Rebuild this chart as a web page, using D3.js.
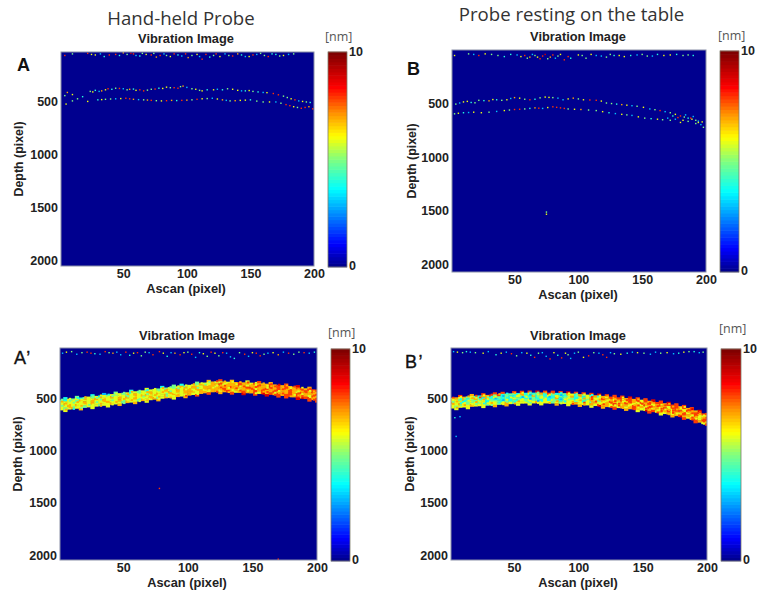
<!DOCTYPE html>
<html><head><meta charset="utf-8">
<script src="https://cdn.jsdelivr.net/npm/d3@7"></script>
<style>html,body{margin:0;background:#fff}svg{display:block}text{font-family:"Liberation Sans",Arial,sans-serif}</style>
</head><body><svg id="c" width="762" height="597"></svg>
<script>
const xTicks=[50,100,150,200], yTicks=[500,1000,1500,2000];
const barStops=[0,0.1,0.36,0.5,0.61,0.72,0.84,1];
const barColors=["#00008f","#0000ff","#00ffff","#80ff80","#ffff00","#ff9000","#ff0000","#800000"];
const barSteps=[0,1,2,3,4,5,6,7,8,9,10,11,12,13,14,15,16,17,18,19,20,21,22,23,24,25,26,27,28,29,30,31,32,33,34,35,36,37,38,39,40,41,42,43,44,45,46,47,48,49,50,51,52,53,54,55,56,57,58,59,60,61,62,63];
const headlines=["Hand-held Probe","Probe resting on the table"];

// [ascan, depth, nm]
const speckleA=[[4,60,8],[10,45,5],[22,40,8],[28,55,6],[35,70,4],[44,50,8],[50,35,7],[56,40,9],[60,60,3],[65,40,5],[72,55,8],[76,75,7],[84,60,5],[90,45,8],[96,65,3],[101,80,7],[108,50,6],[112,95,8],[118,75,4],[123,45,8],[133,60,5],[140,45,7],[146,70,3],[152,55,8],[158,40,5],[164,70,8],[170,50,4],[176,60,6],[184,45,5],
[25,50,6],[32,45,3],[39,55,8],[47,60,4],[53,50,5],[58,45,8],[63,65,4],[68,50,6],[74,40,5],[79,60,8],[82,45,3],[87,70,6],[93,55,4],[99,45,8],[104,60,5],[110,70,3],[115,50,8],[121,60,5],[126,70,6],[130,45,3],[136,65,8],[143,55,4],[149,70,6],[155,50,3],[161,60,5],[167,45,4],[173,65,5],[180,50,3],
[4,440,5],[6,410,7],[10,430,6],[14,470,5],[18,450,4],[24,400,5],[28,390,4],[33,395,7],[38,375,8],[44,370,5],[50,375,3],[55,380,7],[60,390,6],[66,395,8],[72,380,5],[78,370,4],[84,360,6],[90,365,8],[97,350,7],[104,375,5],[112,395,6],[116,385,4],[124,380,3],[132,375,5],[140,390,6],[146,395,4],[152,400,5],[160,410,3],[168,420,8],[176,445,5],[182,470,6],[188,490,3],[194,500,5],
[26,405,6],[31,400,3],[36,385,6],[41,380,4],[47,372,8],[53,385,5],[58,378,4],[63,385,8],[69,388,5],[75,378,8],[81,372,6],[87,365,5],[93,370,8],[95,355,5],[100,362,3],[107,380,6],[110,390,5],[121,385,6],[128,385,4],[136,380,6],[143,395,3],[149,392,6],[156,405,4],[163,412,6],[172,432,8],[179,458,5],[185,480,8],[191,495,6],[197,505,4],
[5,520,6],[10,490,5],[22,495,6],[30,480,4],[36,475,5],[44,470,3],[52,465,8],[58,475,7],[66,480,5],[72,485,8],[80,490,6],[88,485,7],[96,485,8],[104,480,5],[112,470,6],[120,465,3],[128,480,7],[134,490,5],[142,485,6],[150,480,4],[160,500,5],[170,500,3],[178,525,8],[184,545,6],[190,560,8],[196,545,7],[199,565,8],
[33,478,6],[40,472,5],[48,468,6],[55,470,8],[62,478,3],[69,482,7],[76,488,5],[84,488,8],[92,487,4],[100,483,7],[108,475,8],[116,468,5],[124,472,6],[131,485,3],[138,488,7],[146,483,6],[155,492,5],[165,500,6],[174,512,5],[181,535,8],[187,552,5],[193,552,8]];
const speckleB=[[3,60,6],[14,45,5],[22,60,8],[32,50,5],[42,70,4],[52,55,3],[58,60,8],[62,75,7],[66,60,5],[70,90,8],[74,50,9],[78,75,7],[84,65,5],[89,100,8],[92,70,8],[100,55,6],[106,85,5],[114,60,3],[122,75,5],[128,60,4],[136,70,6],[146,55,3],[154,65,5],[162,50,4],[172,55,6],[182,60,5],[190,60,4],
[18,50,3],[27,45,6],[37,60,5],[47,50,4],[55,70,6],[60,85,5],[64,50,3],[68,75,6],[72,65,8],[76,90,5],[80,55,8],[82,85,3],[86,50,6],[94,85,4],[103,60,5],[110,50,6],[118,65,3],[125,50,5],[132,60,6],[141,60,4],[150,50,5],[158,65,3],[167,60,6],[177,50,4],[186,55,5],
[4,510,5],[10,490,6],[16,495,4],[22,475,5],[30,480,7],[36,470,4],[44,470,6],[50,450,7],[58,465,5],[66,465,4],[74,445,6],[80,450,5],[88,470,3],[96,455,7],[104,470,6],[114,475,8],[122,500,5],[130,510,4],[138,520,6],[146,530,5],[156,555,3],[164,570,8],[172,590,5],[180,620,8],[186,640,4],[192,660,5],[197,675,6],
[7,500,3],[13,485,6],[19,498,5],[26,478,4],[33,468,6],[40,475,5],[47,458,3],[54,455,6],[62,470,8],[70,452,5],[77,448,6],[84,455,3],[92,462,6],[100,462,5],[109,472,8],[118,482,6],[126,505,5],[134,515,7],[142,525,3],[151,540,6],[160,562,5],[168,580,3],[176,605,6],[183,630,5],[189,650,6],[194,668,3],
[3,600,5],[10,590,4],[18,585,6],[30,585,5],[42,570,6],[50,560,8],[58,555,5],[66,545,7],[72,550,3],[80,535,8],[86,545,8],[92,555,5],[102,560,7],[114,570,5],[124,590,4],[134,605,6],[142,615,3],[152,640,5],[162,650,6],[170,640,3],[172,660,5],[174,620,4],[178,635,8],[182,660,6],[184,610,3],[188,640,8],[192,690,5],[196,700,3],[198,725,5],
[6,595,6],[14,588,3],[24,590,6],[36,578,3],[46,565,5],[54,558,8],[62,550,4],[69,548,8],[76,542,6],[83,540,8],[89,550,8],[97,558,6],[108,565,5],[119,580,6],[129,598,3],[138,610,5],[147,628,6],[157,645,4],[166,655,5],[176,650,3],[180,680,6],[186,670,5],[190,625,3],[194,680,6],[75,1510,5],[75,1530,6]];
const speckleA2=[[3,60,3],[10,45,5],[14,70,3],[22,50,8],[28,65,4],[36,45,8],[42,60,7],[48,75,3],[52,50,8],[58,60,6],[64,85,5],[70,55,3],[78,45,8],[84,90,4],[90,60,7],[94,75,8],[100,50,5],[106,100,3],[112,65,6],[118,50,8],[124,85,5],[130,60,3],[136,110,4],[144,70,8],[150,55,6],[156,85,8],[162,60,3],[170,75,7],[178,60,8],[186,50,5],[194,60,3],[78,1360,8],[170,2040,8],
[6,50,6],[18,55,5],[25,60,8],[32,70,3],[39,55,5],[45,50,3],[55,80,4],[61,55,8],[67,50,5],[73,75,8],[81,60,6],[87,55,3],[97,55,6],[103,70,8],[109,55,4],[115,90,5],[121,60,6],[127,55,8],[133,95,3],[140,55,5],[147,90,3],[153,60,8],[159,70,5],[166,55,6],[174,50,3],[182,70,5],[190,55,8],[198,50,4]];
const speckleB2=[[3,45,3],[10,55,5],[16,50,3],[26,60,6],[36,75,4],[44,50,3],[52,85,5],[60,60,6],[66,100,8],[72,55,3],[78,115,8],[84,80,4],[90,60,6],[94,110,3],[100,50,5],[108,85,8],[116,60,3],[122,100,8],[128,65,5],[138,60,4],[146,55,6],[156,70,3],[164,60,5],[174,65,3],[182,50,6],[190,45,4],[197,50,5],[4,680,4],[8,670,3],[5,860,3],
[6,50,6],[13,45,4],[20,55,5],[30,45,3],[40,60,6],[48,65,8],[56,55,3],[63,80,4],[69,60,5],[75,90,3],[81,55,6],[87,105,8],[92,75,5],[97,60,3],[104,100,6],[112,55,5],[119,75,8],[125,55,3],[133,70,6],[142,50,3],[151,60,5],[160,50,3],[169,55,6],[178,60,4],[186,45,5],[194,55,3]];

// value of a band cell per depth row, one digit per 3 ascans; 0 = empty
const bandA2=["0400500040030050004000600040050400050070080070006008007000800900700",
"5465645656465656564656566565656756657667667677877687778787877887888",
"6666576667666766656766676667667676776767786777876778778787877778787",
"6766667676676667676667766766767677676777677787778877787787787687778",
"6676766676667667666766676667676677767677778777677787877877787877687",
"6567665666566766576657667567667667667767767876787786878787887878878",
"0600070060006007000700600700060070080080070080090080090080800900808"];
const bandB2=["0080070080080800808080908080809080808090808080908080908090808080908",
"6767565477858455547464574854457647564747687887878687788788878787887",
"6657467547465454465547454646545745467668766786876878678768876878768",
"7664565664544454654455465447456546557657687678767687876876887678678",
"6676566564665454546565546465456656465766768767687768676786768767687",
"6566676665665676566656766656566676667687767676787667867676787678768",
"0600600060070070060060060007006007006007008007006008006007008008000"];
// finer mottling laid over the band, half a cell to the right and half a row down
const fineA2=["5060407050604060507050406070506060706050807060708060708090708060807",
"7056067605706506076056706507605670760567086706870768067807860780678",
"6705760670576067056706570670567067056770678077680787068708780678078",
"5670607605670560706705607605760670670706780678070867807860780867086",
"6075670560760670567056076705607607067067078067806780780678086780678",
"0704050060700600500060700600700080060000800700080060900800070090080"];
const fineB2=["8060708060807040706040507080406050604060708060807080908070806090807",
"6045076805460350467035604650346057068067087068078608706807860870768",
"5704650476035046503640560346056046708670678067806870687068706780678",
"7046057604550364056035406450365067067806780870678068708678078067087",
"6057065046704650470560346057046706807068706870786087068708670786087",
"0700600060500600700050600700600800700090080070080090080070090080060"];
const bandAscans=[2,5,8,11,14,17,20,23,26,29,32,35,38,41,44,47,50,53,56,59,62,65,68,71,74,77,80,83,86,89,92,95,98,101,104,107,110,113,116,119,122,125,128,131,134,137,140,143,146,149,152,155,158,161,164,167,170,173,176,179,182,185,188,191,194,197,200];
const centreA2=[556,552,548,545,540,536,532,527,524,520,516,512,508,503,499,494,490,486,481,476,471,467,463,458,453,449,444,440,436,432,428,423,419,414,408,403,398,392,386,382,380,380,382,384,385,387,388,390,391,393,395,398,400,403,407,410,413,417,421,425,431,436,442,447,452,457,461];
const centreB2=[538,534,531,528,525,522,519,516,514,511,508,506,503,501,498,496,494,492,491,490,489,489,488,488,489,489,490,491,493,494,496,498,500,503,505,508,511,514,517,520,524,527,530,534,537,541,545,549,553,557,562,567,573,579,585,591,597,604,611,619,627,636,648,660,674,688,704];
const bandRows=[-60,-40,-20,0,20,40,60];
const fineRows=[-50,-30,-10,10,30,50];

const panels=[
{k:"A", l:"A", lx:17,ly:71,lw:700, x:[61,314],y:[52,266],dep:[27,2053],bx:[328,347],by:[52,267],nm:[325,38],tl:[186,43],xl:[186,293],xt:278,yl:19,sp:speckleA},
{k:"B", l:"B", lx:407,ly:75,lw:700, x:[452,706],y:[50,272],dep:[9,2065],bx:[720,739],by:[51,272],nm:[718,37],tl:[578,41],xl:[578,299],xt:284,yl:412,sp:speckleB},
{k:"A2",l:"A’",lx:14,ly:364,lw:400, x:[60,317],y:[348,560],dep:[10,2048],bx:[331,350],by:[349,561],nm:[328,334],tl:[187,340],xl:[187,587],xt:572,yl:18,sp:speckleA2,band:bandA2,fine:fineA2,c:centreA2,sh:0.15},
{k:"B2",l:"B’",lx:405,ly:368,lw:400, x:[451,707],y:[348,560],dep:[10,2048],bx:[721,741],by:[349,561],nm:[719,330],tl:[578,340],xl:[578,587],xt:572,yl:410,sp:speckleB2,band:bandB2,fine:fineB2,c:centreB2,sh:0.1}];

const svg=d3.select("#c");
const defs=svg.append("defs");
defs.append("filter").attr("id","soft").attr("x","-5%").attr("y","-5%").attr("width","110%").attr("height","110%")
  .append("feGaussianBlur").attr("stdDeviation",0.35);
const jet=d3.scaleLinear().domain(barStops).range(barColors).interpolate(d3.interpolateRgb).clamp(true);
const nmToU=d3.scaleLinear().domain([0,10]).range([0,1]);
const color=v=>jet(nmToU(v));

svg.selectAll("text.head").data(headlines).join("text").attr("class","head")
  .attr("x",(d,i)=>[181,571.5][i]).attr("y",(d,i)=>[25,21][i]).attr("text-anchor","middle")
  .style("font-family","'Open Sans'").style("font-size","18.6px").attr("fill","#333").text(d=>d);

panels.forEach(p=>{
  const x=d3.scaleLinear().domain([1,200]).range(p.x);
  const y=d3.scaleLinear().domain(p.dep).range(p.y);
  const g=svg.append("g");
  const clip="cl"+p.k;
  defs.append("clipPath").attr("id",clip).append("rect").attr("x",p.x[0]).attr("y",p.y[0]).attr("width",p.x[1]-p.x[0]).attr("height",p.y[1]-p.y[0]);
  g.append("rect").attr("x",p.x[0]).attr("y",p.y[0]).attr("width",p.x[1]-p.x[0]).attr("height",p.y[1]-p.y[0]).attr("fill",jet(0));
  const m=g.append("g").attr("clip-path",`url(#${clip})`).append("g").attr("filter","url(#soft)");
  if(p.band){
    const cells=[], fine=[];
    p.band.forEach((row,r)=>row.split("").forEach((ch,i)=>{
      if(ch!=="0"&&i<p.c.length) cells.push({a:bandAscans[i],d:p.c[i]+bandRows[r],v:+ch-p.sh});
    }));
    p.fine.forEach((row,r)=>row.split("").forEach((ch,i)=>{
      if(ch!=="0"&&i<p.c.length) fine.push({a:bandAscans[i],d:p.c[i]+fineRows[r],v:+ch-p.sh});
    }));
    m.selectAll("rect.b").data(cells).join("rect").attr("class","b")
      .attr("x",d=>x(d.a-1.5)).attr("width",x(4)-x(1)+0.4)
      .attr("y",d=>y(d.d-10)).attr("height",y(20)-y(0)+0.4)
      .attr("fill",d=>color(d.v));
    m.selectAll("rect.f").data(fine).join("rect").attr("class","f")
      .attr("x",d=>x(d.a-0.2)).attr("width",x(2.8)-x(1))
      .attr("y",d=>y(d.d-9)).attr("height",y(18)-y(0))
      .attr("fill",d=>color(d.v));
  }
  m.selectAll("rect.s").data(p.sp).join("rect").attr("class","s")
    .attr("x",d=>x(d[0])-0.7).attr("y",d=>y(d[1])-0.7).attr("width",1.4).attr("height",1.4)
    .attr("fill",d=>color(d[2]));
  g.append("rect").attr("x",p.x[0]).attr("y",p.y[0]).attr("width",p.x[1]-p.x[0]).attr("height",p.y[1]-p.y[0]).attr("fill","none").attr("stroke","#8a8fa8").attr("stroke-width",1);

  const ax=g.append("g").attr("transform",`translate(0,${p.xt-9})`).call(d3.axisBottom(x).tickValues(xTicks).tickSize(0).tickPadding(0));
  const ay=g.append("g").attr("transform",`translate(${p.x[0]-3},0)`).call(d3.axisLeft(y).tickValues(yTicks).tickSize(0).tickPadding(0).tickFormat(d3.format("d")));
  [ax,ay].forEach(a=>{a.select(".domain").remove();a.selectAll("text").style("font-family","'Liberation Sans'").style("font-size","12.5px").style("font-weight","700").attr("fill","#222");});
  g.append("text").attr("x",p.tl[0]).attr("y",p.tl[1]).attr("text-anchor","middle").style("font-size","12.8px").style("font-weight","700").attr("fill","#222").text("Vibration Image");
  g.append("text").attr("x",p.xl[0]).attr("y",p.xl[1]).attr("text-anchor","middle").style("font-size","12.8px").style("font-weight","700").attr("fill","#222").text("Ascan (pixel)");
  g.append("text").attr("transform",`translate(${p.yl+4},${(p.y[0]+p.y[1])/2}) rotate(-90)`).attr("text-anchor","middle").style("font-size","12.4px").style("font-weight","700").attr("fill","#222").text("Depth (pixel)");
  g.append("text").attr("x",p.lx).attr("y",p.ly).style("font-size","18px").style("font-weight",p.lw).style("letter-spacing","1.5px").attr("stroke","#111").attr("stroke-width",p.lw===400?0.35:0).attr("fill","#111").text(p.l);

  // colour bar
  const b=d3.scaleBand().domain(barSteps).range([p.by[1],p.by[0]]);
  g.selectAll("rect.bar").data(barSteps).join("rect").attr("class","bar")
    .attr("x",p.bx[0]).attr("width",p.bx[1]-p.bx[0]).attr("y",d=>b(d)-0.3).attr("height",b.bandwidth()+0.6)
    .attr("fill",d=>jet(d/(barSteps.length-1)));
  g.append("rect").attr("x",p.bx[0]).attr("y",p.by[0]).attr("width",p.bx[1]-p.bx[0]).attr("height",p.by[1]-p.by[0]).attr("fill","none").attr("stroke","#7d7d6a").attr("stroke-width",0.8);
  g.append("text").attr("x",p.bx[1]+2).attr("y",p.by[0]+4).style("font-size","12.5px").style("font-weight","700").attr("fill","#222").text("10");
  g.append("text").attr("x",p.bx[1]+2).attr("y",p.by[1]+3).style("font-size","12.5px").style("font-weight","700").attr("fill","#222").text("0");
  g.append("text").attr("x",p.nm[0]).attr("y",p.nm[1]+3).style("font-family","'Open Sans'").style("font-size","12.5px").attr("fill","#555").text("[nm]");
});
</script></body></html>
